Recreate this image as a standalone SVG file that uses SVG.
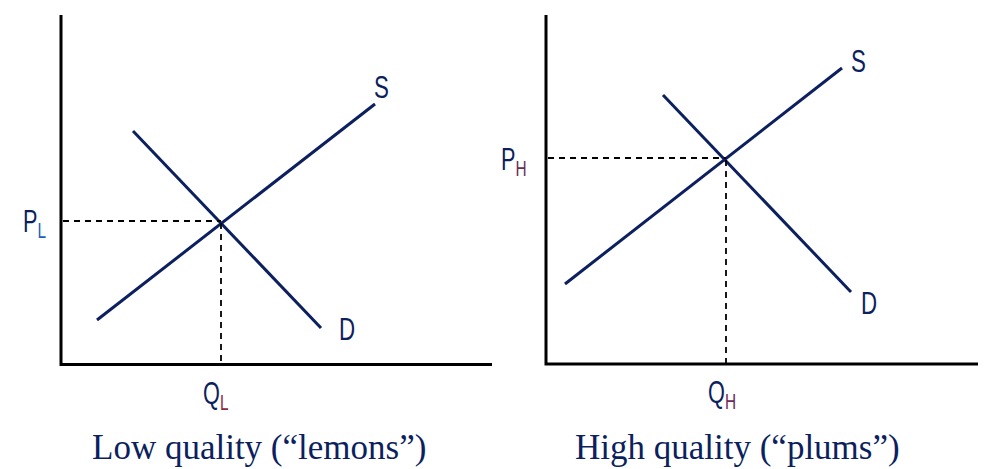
<svg xmlns="http://www.w3.org/2000/svg" width="1007" height="469" viewBox="0 0 1007 469">
<style>
.axis{stroke:#000;stroke-width:3;fill:none}
.curve{stroke:#0c1f5e;stroke-width:3;fill:none}
.dash{stroke:#000;stroke-width:1.8;stroke-dasharray:6,5;fill:none}
.lbl{font-family:"Liberation Sans",Arial,sans-serif;font-size:31px;fill:#0c1f5e}
.sub{font-size:22px}
.title{font-family:"Liberation Serif","Times New Roman",serif;font-size:35px;fill:#0c1f5e}
</style>
<rect width="1007" height="469" fill="#fff"/>
<g id="left-chart">
<path class="axis" d="M61,15 V364.5 H492"/>
</g>
<g id="right-chart">
<path class="axis" d="M546,15 V364 H978"/>
</g>
<g id="connectors">
<line class="curve" x1="97" y1="320" x2="375" y2="104"/>
<line class="curve" x1="133" y1="131" x2="321" y2="328"/>
<path class="dash" d="M63,221 H221 M221,223 V363"/>
<line class="curve" x1="565" y1="284" x2="842" y2="68"/>
<line class="curve" x1="663" y1="95" x2="851" y2="292"/>
<path class="dash" d="M548,158 H726 M726,160 V363"/>
</g>
<g id="label-S-left"><text class="lbl" transform="translate(374,98) scale(0.72,1)">S</text></g>
<g id="label-D-left"><text class="lbl" transform="translate(339,340) scale(0.72,1)">D</text></g>
<g id="label-PL"><text class="lbl" transform="translate(23,232) scale(0.7,1)">P<tspan class="sub" fill="#1a5fb4" dy="6">L</tspan></text></g>
<g id="label-QL"><text class="lbl" transform="translate(203,404) scale(0.7,1)">Q<tspan class="sub" fill="#8a2a3a" dy="6">L</tspan></text></g>
<g id="label-S-right"><text class="lbl" transform="translate(851,72) scale(0.72,1)">S</text></g>
<g id="label-D-right"><text class="lbl" transform="translate(861,314) scale(0.72,1)">D</text></g>
<g id="label-PH"><text class="lbl" transform="translate(501,170) scale(0.7,1)">P<tspan class="sub" fill="#6a2a5a" dy="6">H</tspan></text></g>
<g id="label-QH"><text class="lbl" transform="translate(708,403) scale(0.7,1)">Q<tspan class="sub" fill="#6a2a5a" dy="6">H</tspan></text></g>
<g id="title-left"><text class="title" x="92" y="459">Low quality (“lemons”)</text></g>
<g id="title-right"><text class="title" x="575" y="459">High quality (“plums”)</text></g>
</svg>
